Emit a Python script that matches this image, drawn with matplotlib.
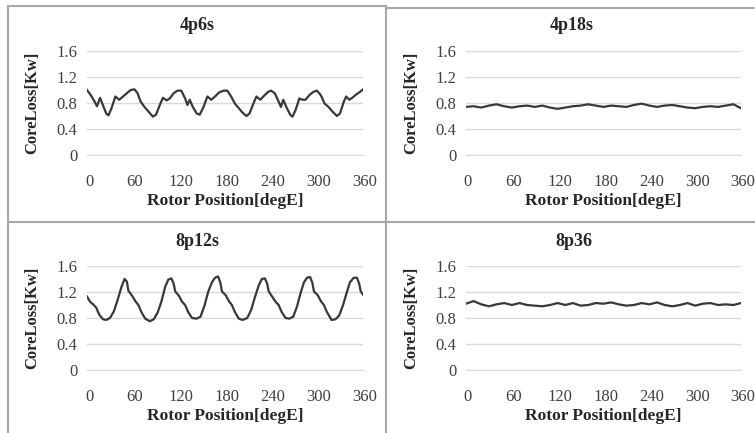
import matplotlib
matplotlib.use("Agg")
import matplotlib.pyplot as plt
from matplotlib.lines import Line2D
from matplotlib.transforms import ScaledTranslation

# 4p6s
deg_4p6s = [0, 5, 10, 13, 17, 20, 25, 28, 32, 37, 42, 47, 52, 57, 62, 66, 70, 75, 80, 86,
            90, 95, 99, 104, 108, 113, 118, 123, 128, 131, 134, 138, 143, 147, 152, 157,
            162, 167, 172, 178, 183, 188, 193, 198, 203, 208, 212, 217, 221, 226, 230,
            236, 240, 245, 250, 253, 256, 260, 265, 268, 272, 277, 281, 285, 290, 295,
            300, 305, 310, 315, 320, 326, 330, 335, 338, 342, 346, 351, 356, 360]
loss_4p6s = [1.00, 0.92, 0.82, 0.75, 0.88, 0.79, 0.64, 0.61, 0.72, 0.90, 0.85, 0.90, 0.95,
             1.00, 1.01, 0.95, 0.82, 0.74, 0.67, 0.59, 0.62, 0.77, 0.88, 0.84, 0.87, 0.95,
             0.99, 0.99, 0.87, 0.77, 0.85, 0.74, 0.64, 0.62, 0.74, 0.90, 0.85, 0.90, 0.96,
             0.99, 0.99, 0.90, 0.79, 0.72, 0.65, 0.60, 0.64, 0.79, 0.90, 0.85, 0.90, 0.97,
             0.99, 0.95, 0.82, 0.74, 0.85, 0.74, 0.62, 0.59, 0.69, 0.87, 0.85, 0.85, 0.92,
             0.97, 0.99, 0.92, 0.79, 0.74, 0.67, 0.60, 0.64, 0.82, 0.90, 0.85, 0.88, 0.93,
             0.97, 1.01]

# 4p18s
deg_4p18s = list(range(0, 361, 10))
loss_4p18s = [0.74, 0.75, 0.73, 0.76, 0.78, 0.75, 0.73, 0.75, 0.76, 0.74, 0.76, 0.73, 0.71,
              0.73, 0.75, 0.76, 0.78, 0.76, 0.74, 0.76, 0.75, 0.74, 0.77, 0.79, 0.76, 0.74,
              0.76, 0.77, 0.75, 0.73, 0.72, 0.74, 0.75, 0.74, 0.76, 0.78, 0.72]

# 8p12s
deg_8p12s = [0, 4, 8, 12, 16, 21, 25, 30, 35, 40, 45, 49, 52, 54, 59, 63, 67, 71, 76, 82,
             87, 92, 97, 102, 106, 110, 113, 115, 120, 124, 128, 132, 137, 143, 148, 153,
             158, 163, 167, 171, 174, 176, 181, 185, 189, 193, 198, 203, 209, 214, 219,
             224, 228, 232, 235, 237, 242, 246, 250, 254, 259, 264, 269, 274, 279, 283,
             287, 291, 294, 296, 301, 305, 309, 313, 319, 324, 329, 334, 339, 343, 348,
             352, 355, 357, 360]
loss_8p12s = [1.13, 1.05, 1.01, 0.96, 0.85, 0.78, 0.77, 0.80, 0.90, 1.08, 1.28, 1.40, 1.36,
              1.22, 1.14, 1.06, 1.00, 0.89, 0.79, 0.75, 0.78, 0.88, 1.05, 1.28, 1.39, 1.41,
              1.33, 1.21, 1.14, 1.05, 1.00, 0.89, 0.80, 0.79, 0.82, 0.98, 1.20, 1.35, 1.42,
              1.44, 1.34, 1.21, 1.15, 1.06, 1.00, 0.89, 0.79, 0.77, 0.80, 0.92, 1.12, 1.30,
              1.40, 1.41, 1.33, 1.21, 1.12, 1.05, 1.00, 0.89, 0.80, 0.79, 0.82, 0.98, 1.20,
              1.35, 1.42, 1.43, 1.34, 1.21, 1.15, 1.06, 1.00, 0.89, 0.77, 0.78, 0.84, 1.00,
              1.20, 1.35, 1.42, 1.42, 1.33, 1.21, 1.16]

# 8p36
deg_8p36 = list(range(0, 361, 10))
loss_8p36 = [1.02, 1.06, 1.01, 0.98, 1.01, 1.03, 1.00, 1.03, 1.00, 0.99, 0.98, 1.00, 1.03,
             1.00, 1.03, 0.99, 1.00, 1.03, 1.02, 1.04, 1.01, 0.99, 1.00, 1.03, 1.01, 1.04,
             1.00, 0.98, 1.00, 1.03, 0.99, 1.02, 1.03, 1.00, 1.01, 1.00, 1.03]

titles = ["4p6s", "4p18s", "8p12s", "8p36"]
series = [(deg_4p6s, loss_4p6s), (deg_4p18s, loss_4p18s),
          (deg_8p12s, loss_8p12s), (deg_8p36, loss_8p36)]
x_ticks = [0, 60, 120, 180, 240, 300, 360]
y_ticks = [0, 0.4, 0.8, 1.2, 1.6]
y_tick_labels = ["0", "0.4", "0.8", "1.2", "1.6"]

W, H = 755, 433
fig = plt.figure(figsize=(W / 100, H / 100), dpi=100)
plt.rcParams['font.family'] = ['Liberation Serif', 'DejaVu Serif']

# plot areas in pixels: (left, top, right, bottom) and panel centre for titles
boxes = [(87, 51, 363, 155), (466, 51, 741, 155), (87, 266, 363, 370), (466, 266, 741, 370)]
title_pos = [(197, 26), (572, 26), (197, 241), (574, 241)]

for (l, t, r, b), title, (xs, ys), (tx, ty) in zip(boxes, titles, series, title_pos):
    ax = fig.add_axes([l / W, 1 - b / H, (r - l) / W, (b - t) / H])
    ax.plot(xs, ys, color="#383838", lw=1.6)
    ax.set_xlim(0, 360)
    ax.set_ylim(0, 1.6)
    ax.set_xticks(x_ticks)
    ax.set_yticks(y_ticks)
    ax.set_yticklabels(y_tick_labels)
    ax.yaxis.grid(True, color="#d9d9d9", lw=1)
    ax.set_axisbelow(True)
    for s in ["top", "right", "left"]:
        ax.spines[s].set_visible(False)
    ax.spines["bottom"].set_color("#d9d9d9")
    ax.tick_params(length=0, labelsize=12, colors="#404040")
    ax.tick_params(axis="x", pad=14)
    ax.tick_params(axis="y", pad=7)
    for lab in ax.get_xticklabels():
        lab.set_transform(lab.get_transform() + ScaledTranslation(0.02, 0, fig.dpi_scale_trans))
    ax.set_xlabel("Rotor Position[degE]", fontsize=12.5, fontweight="bold", color="#262626")
    ax.set_ylabel("CoreLoss[Kw]", fontsize=12, fontweight="bold", color="#262626")
    ax.xaxis.set_label_coords(0.5, -0.365)
    ax.yaxis.set_label_coords(-0.17, 0.5)
    fig.text(tx / W, 1 - ty / H, title, ha="center", va="center",
             fontsize=13, fontweight="bold", color="#262626")

# panel frames
frame = dict(color="#a8a8a8", lw=1.5, transform=fig.transFigure)
def px_line(xa, ya, xb, yb):
    fig.add_artist(Line2D([xa / W, xb / W], [1 - ya / H, 1 - yb / H], **frame))

px_line(8, 6, 8, H)
px_line(386, 6, 386, H)
px_line(8, 6, 386, 6)
px_line(386, 7.5, W, 7.5)
px_line(8, 222, W, 222)

fig.savefig("out.png", dpi=100)
